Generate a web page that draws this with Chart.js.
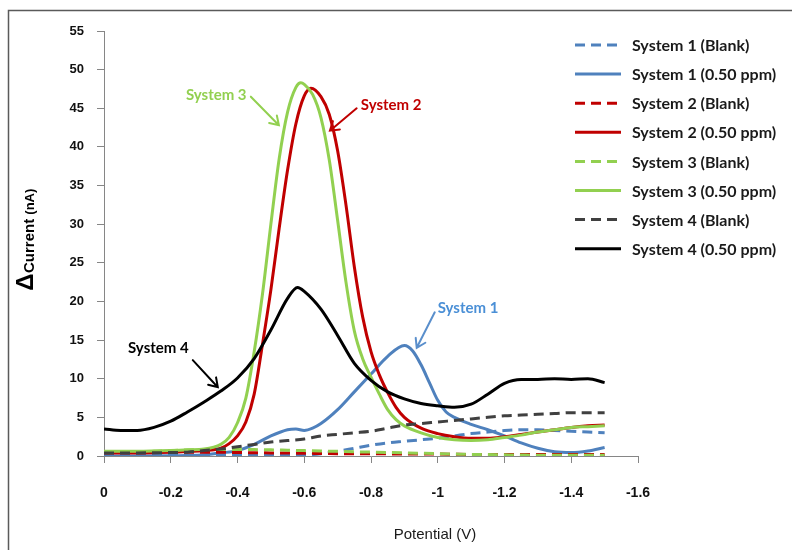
<!DOCTYPE html>
<html>
<head>
<meta charset="utf-8">
<script src="https://cdn.jsdelivr.net/npm/chart.js@4.4.1/dist/chart.umd.min.js"></script>
<style>
  html, body { margin: 0; padding: 0; background: #ffffff; }
  #wrap { width: 792px; height: 550px; }
</style>
</head>
<body>
<div id="wrap"><canvas id="c" width="792" height="550"></canvas></div>
<script>
// ---- Voltammetry data: potential (V) vs. delta current (nA) ----

// shared potential grid for the blank runs
const blankPotential = [0, -0.05, -0.1, -0.15, -0.2, -0.25, -0.3, -0.35, -0.4, -0.45, -0.5, -0.55, -0.6, -0.65, -0.7,
  -0.75, -0.8, -0.85, -0.9, -0.95, -1.0, -1.05, -1.1, -1.15, -1.2, -1.25, -1.3, -1.35, -1.4, -1.45, -1.5];

const sys1Blank = [0.2, 0.18, 0.15, 0.12, 0.1, 0.1, 0.1, 0.1, 0.1, 0.08, 0.05, 0.05, 0.1, 0.3, 0.6,
  1.0, 1.4, 1.7, 1.9, 2.1, 2.3, 2.6, 2.9, 3.1, 3.3, 3.4, 3.4, 3.3, 3.2, 3.1, 3.0];
const sys2Blank = [0.5, 0.5, 0.5, 0.5, 0.5, 0.5, 0.5, 0.48, 0.45, 0.42, 0.4, 0.38, 0.35, 0.33, 0.3,
  0.3, 0.3, 0.28, 0.25, 0.25, 0.25, 0.22, 0.2, 0.2, 0.2, 0.2, 0.2, 0.2, 0.2, 0.2, 0.2];
const sys3Blank = [0.5, 0.52, 0.55, 0.6, 0.7, 0.78, 0.85, 0.85, 0.85, 0.83, 0.8, 0.75, 0.7, 0.65, 0.6,
  0.55, 0.5, 0.45, 0.4, 0.35, 0.3, 0.25, 0.2, 0.18, 0.15, 0.12, 0.1, 0.1, 0.1, 0.1, 0.1];
const sys4Blank = [0.4, 0.4, 0.4, 0.42, 0.45, 0.5, 0.7, 0.9, 1.2, 1.5, 1.8, 2.0, 2.2, 2.6, 2.8,
  3.0, 3.2, 3.6, 4.0, 4.2, 4.4, 4.6, 4.8, 5.0, 5.2, 5.3, 5.4, 5.5, 5.6, 5.6, 5.6];

// 0.50 ppm runs, each sampled on its own potential list
const sys1Potential = [0, -0.1, -0.2, -0.25, -0.3, -0.35, -0.4, -0.45, -0.5, -0.55, -0.575, -0.6, -0.625, -0.65, -0.7,
  -0.75, -0.8, -0.85, -0.9, -0.925, -0.95, -0.975, -1.0, -1.025, -1.05, -1.1, -1.15, -1.2, -1.25, -1.3, -1.35, -1.4, -1.45, -1.5];
const sys1Sample = [0.0, 0.0, 0.02, 0.05, 0.15, 0.4, 0.7, 1.5, 2.6, 3.4, 3.5, 3.3, 3.6, 4.2, 6.0,
  8.3, 10.6, 12.9, 14.3, 13.6, 11.8, 9.5, 7.2, 5.7, 5.0, 4.1, 3.4, 2.6, 1.7, 1.0, 0.55, 0.45, 0.65, 1.1];

const sys2Potential = [0, -0.1, -0.2, -0.3, -0.35, -0.375, -0.4, -0.425, -0.45, -0.475, -0.5, -0.525, -0.55, -0.575, -0.6,
  -0.62, -0.65, -0.675, -0.7, -0.725, -0.75, -0.775, -0.8, -0.825, -0.85, -0.875, -0.9, -0.95, -1.0, -1.05,
  -1.1, -1.15, -1.2, -1.25, -1.3, -1.35, -1.4, -1.45, -1.5];
const sys2Sample = [0.4, 0.4, 0.5, 0.7, 1.0, 1.6, 2.6, 4.4, 8.0, 14.5, 21.5, 29.5, 37.0, 43.0, 46.6,
  47.6, 46.5, 44.2, 39.5, 32.5, 24.5, 18.0, 13.5, 10.5, 8.2, 6.3, 5.0, 3.6, 2.9, 2.5,
  2.3, 2.3, 2.5, 2.8, 3.1, 3.4, 3.7, 3.9, 4.0];

const sys3Potential = [0, -0.1, -0.2, -0.25, -0.3, -0.35, -0.375, -0.4, -0.425, -0.45, -0.475, -0.5, -0.525, -0.55, -0.575,
  -0.59, -0.6, -0.625, -0.65, -0.675, -0.7, -0.725, -0.75, -0.775, -0.8, -0.825, -0.85, -0.875, -0.9, -0.95,
  -1.0, -1.05, -1.1, -1.15, -1.2, -1.25, -1.3, -1.35, -1.4, -1.45, -1.5];
const sys3Sample = [0.6, 0.6, 0.7, 0.8, 0.9, 1.5, 2.4, 4.3, 7.5, 13.5, 21.0, 30.0, 38.5, 44.5, 47.7,
  48.3, 48.1, 46.8, 43.8, 38.3, 30.5, 22.5, 16.2, 12.6, 10.2, 8.0, 6.0, 4.7, 3.9, 3.0,
  2.4, 2.1, 2.0, 2.1, 2.4, 2.7, 3.1, 3.4, 3.7, 3.8, 3.9];

const sys4Potential = [0, -0.05, -0.1, -0.15, -0.2, -0.25, -0.3, -0.35, -0.4, -0.45, -0.5, -0.55, -0.58, -0.6, -0.65,
  -0.7, -0.75, -0.8, -0.85, -0.9, -0.95, -1.0, -1.05, -1.1, -1.15, -1.2, -1.25, -1.3, -1.35, -1.4, -1.45, -1.5];
const sys4Sample = [3.5, 3.3, 3.3, 3.7, 4.5, 5.7, 7.0, 8.4, 10.1, 12.6, 16.3, 20.4, 21.8, 21.3, 19.0,
  15.6, 12.0, 9.8, 8.3, 7.4, 6.8, 6.5, 6.3, 6.7, 8.0, 9.4, 9.9, 9.9, 10.0, 9.9, 10.0, 9.5];

// series names and styling
const seriesNames = ['System 1 (Blank)', 'System 1 (0.50 ppm)', 'System 2 (Blank)', 'System 2 (0.50 ppm)',
  'System 3 (Blank)', 'System 3 (0.50 ppm)', 'System 4 (Blank)', 'System 4 (0.50 ppm)'];
const seriesColors = ['#4F81BD', '#4F81BD', '#C00000', '#C00000', '#92D050', '#92D050', '#404040', '#000000'];
const seriesDashed = [true, false, true, false, true, false, true, false];

// axis ticks
const xTicks = [0, -0.2, -0.4, -0.6, -0.8, -1.0, -1.2, -1.4, -1.6];
const yTicks = [0, 5, 10, 15, 20, 25, 30, 35, 40, 45, 50, 55];

// callout labels with arrows (data coordinates)
const calloutText = ['System 3', 'System 2', 'System 1', 'System 4'];
const calloutColor = ['#92D050', '#C00000', '#4A8FD6', '#000000'];
const calloutArrowColor = ['#92D050', '#C00000', '#5A8FCC', '#000000'];
const calloutTextAt = [[-0.2455, 46.7], [-0.7695, 45.4], [-1.0, 19.15], [-0.072, 14.0]];
const calloutTail = [[-0.440, 46.5], [-0.757, 45.0], [-0.991, 18.6], [-0.266, 12.4]];
const calloutHead = [[-0.524, 42.8], [-0.677, 42.1], [-0.937, 14.0], [-0.341, 8.9]];

// ---- build datasets ----
function pairs(xs, ys) { return xs.map((x, i) => ({ x: x, y: ys[i] })); }
const seriesData = [
  pairs(blankPotential, sys1Blank), pairs(sys1Potential, sys1Sample),
  pairs(blankPotential, sys2Blank), pairs(sys2Potential, sys2Sample),
  pairs(blankPotential, sys3Blank), pairs(sys3Potential, sys3Sample),
  pairs(blankPotential, sys4Blank), pairs(sys4Potential, sys4Sample)
];
const DASH = [10, 6];
const datasets = seriesNames.map((name, i) => ({
  label: name,
  data: seriesData[i],
  borderColor: seriesColors[i],
  backgroundColor: seriesColors[i],
  borderWidth: 3,
  borderDash: seriesDashed[i] ? DASH : [],
  borderCapStyle: 'butt',
  pointRadius: 0,
  fill: false,
  cubicInterpolationMode: 'monotone',
  order: seriesNames.length - 1 - i   // later series painted on top
}));

const FONT = '"Liberation Sans", Arial, sans-serif';
const LABEL_FONT = 'Lato, "Liberation Sans", sans-serif';

// frame, axis titles, legend and callouts
const decor = {
  id: 'decor',
  beforeDraw(chart) {
    const ctx = chart.ctx;
    ctx.save();
    ctx.fillStyle = '#ffffff';
    ctx.fillRect(0, 0, chart.width, chart.height);
    ctx.strokeStyle = '#5a5a5a';
    ctx.lineWidth = 1.5;
    ctx.beginPath();
    ctx.moveTo(8.5, chart.height);
    ctx.lineTo(8.5, 10.5);
    ctx.lineTo(chart.width, 10.5);
    ctx.stroke();
    ctx.restore();
  },
  afterDatasetsDraw(chart) {
    const ctx = chart.ctx;
    const xs = chart.scales.x, ys = chart.scales.y;
    ctx.save();
    calloutText.forEach((txt, i) => {
      const tx = xs.getPixelForValue(calloutTextAt[i][0]);
      const ty = ys.getPixelForValue(calloutTextAt[i][1]);
      ctx.fillStyle = calloutColor[i];
      ctx.font = 'bold 15px ' + LABEL_FONT;
      ctx.textAlign = 'left';
      ctx.textBaseline = 'middle';
      ctx.fillText(txt, tx, ty);

      const x0 = xs.getPixelForValue(calloutTail[i][0]);
      const y0 = ys.getPixelForValue(calloutTail[i][1]);
      const x1 = xs.getPixelForValue(calloutHead[i][0]);
      const y1 = ys.getPixelForValue(calloutHead[i][1]);
      ctx.strokeStyle = calloutArrowColor[i];
      ctx.lineWidth = 2;
      ctx.lineCap = 'round';
      ctx.beginPath();
      ctx.moveTo(x0, y0);
      ctx.lineTo(x1, y1);
      const ang = Math.atan2(y1 - y0, x1 - x0);
      const len = 10, spread = Math.PI / 5.5;
      ctx.moveTo(x1 - len * Math.cos(ang - spread), y1 - len * Math.sin(ang - spread));
      ctx.lineTo(x1, y1);
      ctx.lineTo(x1 - len * Math.cos(ang + spread), y1 - len * Math.sin(ang + spread));
      ctx.stroke();
    });
    ctx.restore();
  },
  afterDraw(chart) {
    const ctx = chart.ctx;
    ctx.save();
    // legend
    const rowTop = 45, rowStep = 29.1;
    chart.data.datasets.forEach((ds, i) => {
      const y = rowTop + i * rowStep;
      ctx.strokeStyle = ds.borderColor;
      ctx.lineWidth = 3;
      ctx.lineCap = 'butt';
      ctx.setLineDash(ds.borderDash || []);
      ctx.beginPath();
      ctx.moveTo(575, y);
      ctx.lineTo(ds.borderDash && ds.borderDash.length ? 617 : 621, y);
      ctx.stroke();
      ctx.setLineDash([]);
      ctx.fillStyle = '#1a1a1a';
      ctx.font = 'bold 16px ' + LABEL_FONT;
      ctx.textAlign = 'left';
      ctx.textBaseline = 'middle';
      ctx.fillText(ds.label, 632, y + 1);
    });

    // x axis title
    ctx.fillStyle = '#1a1a1a';
    ctx.font = '15px ' + FONT;
    ctx.textAlign = 'center';
    ctx.textBaseline = 'middle';
    ctx.fillText('Potential (V)', 435, 535);

    // y axis title (rotated)
    ctx.save();
    ctx.translate(26, 282);
    ctx.rotate(-Math.PI / 2);
    ctx.font = 'bold 24px ' + FONT;
    ctx.textAlign = 'center';
    ctx.textBaseline = 'middle';
    ctx.fillStyle = '#000000';
    ctx.fillText('\u0394', 0, 0);
    ctx.restore();

    ctx.save();
    ctx.translate(30, 273);
    ctx.rotate(-Math.PI / 2);
    ctx.textAlign = 'left';
    ctx.textBaseline = 'middle';
    ctx.fillStyle = '#000000';
    ctx.font = 'bold 15px ' + FONT;
    ctx.fillText('Current', 0, 0);
    const w = ctx.measureText('Current ').width;
    ctx.font = 'bold 13px ' + FONT;
    ctx.fillText('(nA)', w, 0);
    ctx.restore();

    ctx.restore();
  }
};

const axisGrid = {
  display: true,
  drawOnChartArea: false,
  drawTicks: true,
  tickLength: 7,
  color: '#868686',
  lineWidth: 1
};

new Chart(document.getElementById('c'), {
  type: 'line',
  data: { datasets: datasets },
  options: {
    responsive: false,
    animation: false,
    devicePixelRatio: 1,
    layout: { padding: { left: 0, top: 31, right: 154, bottom: 0 } },
    plugins: {
      legend: { display: false },
      tooltip: { enabled: false }
    },
    scales: {
      x: {
        type: 'linear',
        reverse: true,
        min: -1.6,
        max: 0,
        afterFit(scale) { scale.height = 94; },
        afterBuildTicks(scale) { scale.ticks = xTicks.map(v => ({ value: v })); },
        ticks: {
          padding: 22,
          color: '#111111',
          font: { family: FONT, size: 14, weight: 'bold' },
          maxRotation: 0,
          autoSkip: false,
          callback: v => String(Number(v.toFixed(1)))
        },
        grid: axisGrid,
        border: { display: true, color: '#868686', width: 1 }
      },
      y: {
        type: 'linear',
        min: 0,
        max: 55,
        afterFit(scale) { scale.width = 104; },
        afterBuildTicks(scale) { scale.ticks = yTicks.map(v => ({ value: v })); },
        ticks: {
          padding: 13,
          color: '#111111',
          font: { family: FONT, size: 13, weight: 'bold' },
          autoSkip: false
        },
        grid: axisGrid,
        border: { display: true, color: '#868686', width: 1 }
      }
    }
  },
  plugins: [decor]
});
</script>
</body>
</html>
